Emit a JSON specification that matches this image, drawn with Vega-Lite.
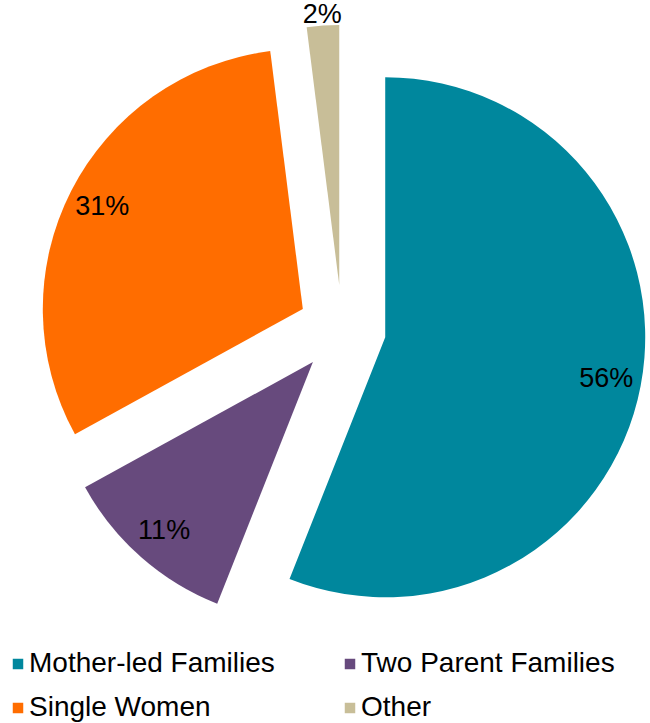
{
  "$schema": "https://vega.github.io/schema/vega-lite/v6.json",
  "width": 650,
  "height": 630,
  "padding": 0,
  "background": "white",
  "config": {"view": {"stroke": null}, "font": "Liberation Sans"},
  "data": {
    "values": [
      {"cat": "Mother-led Families", "value": 56, "label": "56%"},
      {"cat": "Two Parent Families", "value": 11, "label": "11%"},
      {"cat": "Single Women", "value": 31, "label": "31%"},
      {"cat": "Other", "value": 2, "label": "2%"}
    ]
  },
  "transform": [
    {"stack": "value", "groupby": [], "as": ["t0", "t1"]},
    {"calculate": "(datum.t0 + datum.t1) / 2", "as": "mid"},
    {"calculate": "sin(PI * (datum.t0 + datum.t1) / 100)", "as": "ex"},
    {"calculate": "cos(PI * (datum.t0 + datum.t1) / 100)", "as": "ey"}
  ],
  "encoding": {
    "x": {"field": "ex", "type": "quantitative", "axis": null, "scale": {"domain": [-7.773, 7.0], "nice": false, "zero": false}},
    "y": {"field": "ey", "type": "quantitative", "axis": null, "scale": {"domain": [-6.886, 7.432], "nice": false, "zero": false}}
  },
  "layer": [
    {
      "mark": {"type": "arc", "radius": 260},
      "encoding": {
        "theta": {"field": "t0", "type": "quantitative", "stack": null, "scale": {"domain": [0, 100], "range": [0, 6.283185307]}},
        "theta2": {"field": "t1"},
        "color": {
          "field": "cat", "type": "nominal",
          "scale": {
            "domain": ["Mother-led Families", "Two Parent Families", "Single Women", "Other"],
            "range": ["#00879D", "#674A7D", "#FF6D00", "#C8BE98"]
          },
          "legend": {
            "title": null,
            "orient": "none",
            "legendX": 4,
            "legendY": 648,
            "direction": "horizontal",
            "columns": 2,
            "symbolType": "square",
            "symbolSize": 110,
            "symbolStrokeWidth": 0,
            "labelFontSize": 28,
            "labelFont": "Liberation Sans",
            "labelColor": "black",
            "labelOffset": -3,
            "labelLimit": 0,
            "columnPadding": 61,
            "rowPadding": 16,
            "padding": 0
          }
        }
      }
    },
    {
      "transform": [{"filter": "datum.cat != 'Other'"}],
      "mark": {"type": "text", "radius": 225, "fontSize": 27, "font": "Liberation Sans", "color": "black", "align": "center", "baseline": "middle"},
      "encoding": {
        "theta": {"field": "mid", "type": "quantitative", "stack": null, "scale": {"domain": [0, 100], "range": [0, 6.283185307]}},
        "text": {"field": "label"}
      }
    },
    {
      "transform": [{"filter": "datum.cat == 'Other'"}],
      "mark": {"type": "text", "radius": 271, "fontSize": 27, "font": "Liberation Sans", "color": "black", "align": "center", "baseline": "middle"},
      "encoding": {
        "theta": {"field": "mid", "type": "quantitative", "stack": null, "scale": {"domain": [0, 100], "range": [0, 6.283185307]}},
        "text": {"field": "label"}
      }
    }
  ]
}
